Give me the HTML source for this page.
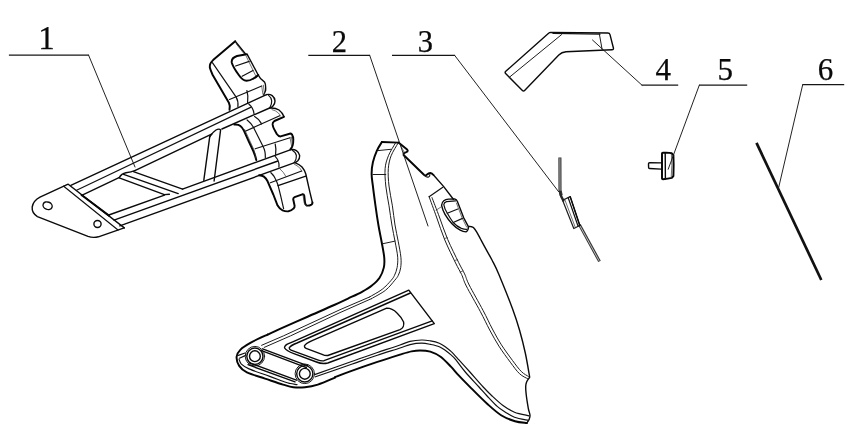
<!DOCTYPE html>
<html>
<head>
<meta charset="utf-8">
<title>Parts diagram</title>
<style>
html,body{margin:0;padding:0;background:#fff;}
body{width:853px;height:435px;overflow:hidden;}
svg{display:block;}
.lbl{font-family:"Liberation Serif",serif;fill:#0a0a0a;stroke:#0a0a0a;stroke-width:0.25;text-anchor:middle;}
.ld{stroke:#101010;stroke-width:1.1;fill:none;stroke-linejoin:miter;}
.k{stroke:#050505;stroke-width:1.95;fill:none;stroke-linejoin:round;stroke-linecap:round;}
.o{stroke:#0a0a0a;stroke-width:1.4;fill:none;stroke-linejoin:round;stroke-linecap:round;}
.m{stroke:#111;stroke-width:1.2;fill:none;stroke-linejoin:round;stroke-linecap:round;}
.n{stroke:#1c1c1c;stroke-width:1.0;fill:none;stroke-linejoin:round;stroke-linecap:round;}
.t{stroke:#333;stroke-width:0.7;fill:none;stroke-linejoin:round;stroke-linecap:round;}
</style>
</head>
<body>
<svg width="853" height="435" viewBox="0 0 853 435">
<defs><filter id="noop" x="0" y="0" width="100%" height="100%" filterUnits="userSpaceOnUse" color-interpolation-filters="sRGB"><feOffset dx="0" dy="0"/></filter><filter id="soft" x="0" y="0" width="853" height="435" filterUnits="userSpaceOnUse" color-interpolation-filters="sRGB"><feGaussianBlur stdDeviation="0.35"/></filter></defs>
<rect width="853" height="435" fill="#fff"/>
<g id="art" filter="url(#soft)">
<g id="p1">
<!-- base plate -->
<path class="o" d="M67.6,184.4 L40,197.2 Q33.4,200.6 32.2,207 Q31.6,212.8 37.4,216.6 L88,236.4 Q93,238.2 98.4,236.8 L124.2,227.9"/>
<path class="m" d="M63.7,186.2 L118,230"/>
<path class="o" d="M68.2,184.3 L124.3,227.9"/>
<path class="k" d="M81.5,195 L109,215.6"/>
<ellipse class="o" cx="47.6" cy="205.7" rx="4.7" ry="3.7" transform="rotate(22 47.6 205.7)"/>
<ellipse class="o" cx="97.5" cy="224" rx="3.6" ry="3.5"/>
<!-- upper tube -->
<path class="o" d="M70.8,185.3 L266.5,94.6"/>
<path class="m" d="M76.6,190.2 L250.6,107.4"/>
<path class="o" d="M81.7,195.4 L119,177.6 M135.4,170.4 L211.6,134.2 M221.9,129 L269.6,108"/>
<path class="o" d="M266.5,94.6 Q269.6,93.8 272.2,95.6 Q274.8,97.6 275,101 Q275,104 273,106 Q271.6,107.6 269.6,108"/>
<path class="m" d="M268.6,95.4 Q271.4,97.6 271.7,101 Q271.8,104.4 270,107.4"/>
<path class="m" d="M248.8,104 Q253.4,108 254,113.7"/>
<!-- lower tube -->
<path class="o" d="M108.8,215 L164.5,195.1 M182.5,189.1 L290.2,149.8"/>
<path class="o" d="M114,220.1 L277.9,161"/>
<path class="o" d="M119.8,225.9 L294,162.9"/>
<path class="o" d="M290.2,149.8 Q293.6,149 296.4,150.6 Q299.4,152.6 299.7,155.6 Q299.8,158.6 297.8,160.8 Q296.2,162.4 294,162.9"/>
<path class="m" d="M292.6,150.4 Q296,152.4 296.4,155.6 Q296.6,159 294.6,162"/>
<path class="m" d="M275.2,156.4 Q278.4,159.6 278.8,163 Q279.2,165 278.9,167"/>
<!-- diagonal brace -->
<path class="o" d="M133.4,171.6 L182.6,189.1"/>
<path class="o" d="M135.4,170.4 Q131,172.2 126,172.7 Q121.4,173.6 119.2,177.7"/>
<path class="o" d="M123.6,174.3 L178.2,193.6"/>
<path class="o" d="M119.2,177.8 L164.4,194.6 L169.4,194.2"/>
<!-- vertical brace -->
<path class="o" d="M203.8,180.4 L209.6,137.6 Q210,135 211.6,134.2"/>
<path class="o" d="M214.1,181 L220.6,129.8 Q219,128.4 216,130 Q212.4,132.4 209.8,136.6"/>
<!-- top piece -->
<path class="k" d="M235.2,41.2 L213.1,60.1 Q209.4,63.5 209.8,67.2 Q210,69 212.7,75 L228.9,102.7 Q230.5,106 229.5,109.8"/>
<path class="m" d="M212.4,62.7 L236,96.9 Q238.5,101 237.9,106.6"/>
<path class="o" d="M235.2,41.2 L245.3,53.7"/>
<path class="t" d="M236.3,44 L244.6,54.4"/>
<path class="k" d="M246.6,54.3 L237,56 Q231,58 231.8,62.7 Q233,67 238.8,75 Q242.5,80.5 246.6,80.8 Q250,80.8 253,78.8 Q256.5,77 258.2,75"/>
<path class="o" d="M247.2,54.3 L258.2,75 Q260,79 264.6,82.1 Q266,84 265.6,90.5 L263.7,95"/>
<path class="t" d="M245.9,55.6 L255.6,75.6"/>
<path class="m" d="M235.6,66 L249.2,61.4 M242.1,76.3 L253,70.5"/>
<path class="m" d="M229.5,99.5 L261.7,86"/>
<path class="m" d="M246.9,90.5 Q248.5,96 247.6,102.7"/>
<path class="t" d="M261.7,86 L262.9,94.3 M263.4,85.2 L264.4,93.6"/>
<!-- middle piece -->
<path class="o" d="M270.4,108 Q275.6,107.8 279,110 Q282.4,112.6 283.9,116.6"/>
<path class="t" d="M272,109.6 Q276,110.6 278.4,113 Q279.8,114.4 280.4,116"/>
<path class="k" d="M283.9,116.8 L274.4,121 Q272.4,122.4 272.6,124.4 Q273,127 274,128.9 L276.8,134 Q278.4,136.4 280.6,136.4 L290.5,133.5 Q291.6,133.6 292,134.6 Q293.4,137 293.3,139.6 Q293.3,143 292.6,145.4 Q292,147.4 290.6,149"/>
<path class="k" d="M234.4,124.6 Q238.6,124.4 240.4,126 Q242.4,127.6 243.9,130.7 L248.6,141.1 L253.3,151 Q255.6,156.4 256.3,160.1"/>
<path class="m" d="M247.1,119.9 Q250.6,122.6 253.3,127 L262.7,145.8 Q264.4,149 264.9,151.6 Q265.4,154 265.3,157.6"/>
<path class="m" d="M254.6,116.6 Q258.6,119 260.8,122.6 L261.4,124"/>
<path class="m" d="M245.3,131.2 L279.7,115.8 M255.2,148.8 L290,137.8"/>
<path class="m" d="M275.2,144 Q276.4,149 275.6,154.4"/>
<path class="t" d="M290,137.6 L291.6,146 M291.4,137 L292.4,144"/>
<path class="t" d="M244.6,129.4 L253.6,149 Q255.6,154 255.8,158.4"/>
<!-- bottom piece -->
<path class="k" d="M259.1,175.2 Q262.4,175.6 263.9,176.6 Q266,178.2 267.6,181.3 L273.3,194.5 L277.6,205.6 Q279.6,209 282.6,210.4 Q285.4,211.6 288.4,211.3 Q291.6,210.6 293.4,208.7 Q294.8,207.4 294.6,205.8 L293.2,199.2 Q293.2,197.8 294.6,197.2 L302.3,194.3 Q303.8,194 304.2,195.4 L305.1,203 Q305.4,205 306.8,205.6 Q309.4,205.8 311.4,204.6 Q312.6,203.8 312.5,202.5"/>
<path class="o" d="M295.4,162.8 Q299.6,164.4 302,167 Q304.6,170 305.8,174 L310,192.6 L312.4,202.5"/>
<path class="t" d="M294.4,164.2 Q298.4,166 300.2,168.6 Q301.4,170.2 301.8,171.4"/>
<path class="t" d="M280.2,169.2 Q283.6,172 285.8,176.2 M270.6,172.4 Q272.4,173.8 273.4,176"/>
<path class="m" d="M270.9,172.8 Q273.6,175 275.2,178.5 Q277,182 278,185.1 L280.8,196.4 L283.6,208.6"/>
<path class="m" d="M270.4,182.7 L301.6,171"/>
<path class="o" d="M278,185.6 L305.8,176.1"/>
<path class="t" d="M303,195 L304.2,203 Q304.8,205.4 306.6,205.9"/>
</g>
<g id="p2">
<path class="k" d="M381.9,142.0 C381.0,143.5 378.3,147.4 376.8,150.8 C375.3,154.2 373.8,158.4 372.9,162.2 C372.0,166.0 371.6,169.8 371.6,173.8 C371.6,177.8 372.2,180.7 372.9,186.0 C373.5,191.3 374.6,199.3 375.5,205.8 C376.4,212.3 377.4,219.0 378.4,225.0 C379.4,231.0 380.6,236.4 381.6,241.8 C382.6,247.2 383.8,252.9 384.2,257.2 C384.6,261.5 384.6,264.2 383.8,267.6 C383.0,271.0 381.6,274.7 379.6,277.7 C377.6,280.7 374.8,283.1 371.9,285.5 C369.0,287.9 366.0,289.6 362.0,291.8 C358.0,294.0 352.6,296.4 348.0,298.6 C343.4,300.8 341.0,301.9 334.2,305.0 C327.4,308.1 316.0,313.0 307.0,317.0 C298.0,321.0 286.6,326.0 280.0,328.9 C273.4,331.8 269.7,333.7 267.6,334.6"/>
<path class="k" d="M267.6,334.6 C264.8,335.9 255.3,340.1 250.8,342.6 C246.3,345.1 242.9,347.2 240.5,349.6 C238.1,352.0 236.8,354.2 236.6,356.9 C236.4,359.6 237.5,363.3 239.2,365.9 C240.9,368.5 242.6,370.3 246.9,372.4 C251.2,374.5 259.0,376.6 265.0,378.6 C271.0,380.6 278.3,383.2 283.0,384.6 C287.7,386.0 289.6,386.8 293.3,387.2 C297.0,387.6 300.9,387.6 305.0,387.2 C309.1,386.8 312.8,386.2 317.8,384.6 C322.8,383.0 332.1,378.8 335.0,377.6"/>
<path class="k" d="M335.0,377.2 C337.8,376.1 344.5,373.4 351.6,370.9 C358.7,368.3 369.3,364.6 377.4,361.9 C385.5,359.2 394.3,356.4 400.0,354.6 C405.7,352.9 408.2,352.1 411.5,351.4 C414.8,350.7 416.9,350.4 420.0,350.4 C423.1,350.4 426.9,350.6 430.3,351.6 C433.7,352.7 437.2,354.2 440.6,356.7 C444.0,359.2 447.9,363.5 450.9,366.6 C453.9,369.7 455.2,371.7 458.7,375.4 C462.1,379.1 466.8,383.8 471.6,388.6 C476.4,393.4 482.5,399.6 487.4,404.0 C492.3,408.4 496.5,412.3 501.1,415.2 C505.7,418.1 510.7,419.9 515.0,421.2 C519.3,422.5 524.8,422.7 526.8,423.0"/>
<path class="k" d="M381.9,142.0 L398.5,142.6"/>
<path class="n" d="M395.5,143.0 C394.3,145.1 390.1,151.5 388.4,155.8 C386.7,160.1 385.5,163.7 385.1,168.7 C384.7,173.7 385.2,179.8 385.8,186.0 C386.4,192.2 388.0,199.3 389.0,205.8 C390.0,212.3 390.9,219.0 391.9,225.0 C392.9,231.0 394.1,236.4 395.1,241.8 C396.1,247.2 397.4,252.9 397.7,257.2 C398.0,261.5 397.6,264.6 397.1,267.6 C396.6,270.6 395.5,273.2 394.5,275.3 C393.5,277.4 393.2,278.0 391.2,280.3 C389.1,282.6 385.8,286.5 382.2,289.3 C378.6,292.1 371.4,295.8 369.3,297.1"/>
<path class="n" d="M369.3,297.1 L340.0,309.7 L283.6,335.8 L261.6,345.3"/>
<path class="n" d="M398.0,143.2 C396.9,145.3 392.7,151.6 391.1,155.8 C389.5,160.1 388.7,163.7 388.3,168.7 C387.9,173.7 388.3,179.8 389.0,186.0 C389.7,192.2 391.4,199.3 392.4,205.8 C393.4,212.3 394.0,219.0 395.0,225.0 C396.0,231.0 397.3,236.4 398.3,241.8 C399.3,247.2 400.5,252.9 400.9,257.2 C401.3,261.5 401.1,264.6 400.7,267.6 C400.3,270.6 399.3,273.2 398.3,275.3 C397.3,277.4 396.9,277.7 394.8,280.2 C392.7,282.7 389.5,287.1 385.6,290.2 C381.7,293.3 373.9,297.2 371.6,298.6"/>
<path class="n" d="M371.6,298.6 L340.0,312.6 L290.7,335.8 L264.2,347.4"/>
<path class="n" d="M378.1,150.6 L390.9,149.3"/>
<path class="n" d="M372.9,174.5 L385.8,174.5"/>
<path class="n" d="M382.9,243.7 L395.1,241.1"/>
<path class="k" d="M398.5,142.6 L407.1,149.5 Q408.2,150.6 407.4,151.6 Q406.4,152.4 404.2,153 Q403.4,153.8 403.6,155 L424.2,175 Q425.6,176 427,174.6 Q428.6,173.2 430.4,173 Q432,173.2 433.5,175"/>
<path class="o" d="M433.5,175 L443.5,186.4 L453.4,199.2"/>
<path class="m" d="M424.8,175.6 Q426.6,177.6 428.6,177 Q430,176.2 429.8,174.8"/>
<path class="t" d="M400.6,145.4 L404.4,152.6"/>
<path class="o" d="M468.4,226.6 C468.8,226.6 470.2,226.4 471.0,226.6 C471.8,226.8 472.5,226.7 473.4,227.6 C474.3,228.5 475.4,230.0 476.6,231.9 C477.8,233.8 479.1,236.4 480.5,239.0 C481.9,241.6 483.1,243.9 485.0,247.4 C486.9,250.9 489.7,255.5 492.0,260.0 C494.3,264.5 495.5,266.3 498.9,274.5 C502.3,282.7 509.2,299.8 512.6,309.0 C516.0,318.2 517.4,322.7 519.5,330.0 C521.6,337.3 523.6,345.2 525.3,353.0 C527.0,360.8 528.9,372.7 529.6,376.6"/>
<path class="o" d="M529.6,377.4 C529.1,378.2 527.2,380.5 526.6,382.0 C526.0,383.5 525.8,384.4 525.7,386.5 C525.6,388.6 525.8,390.9 526.2,394.5 C526.6,398.1 527.7,404.9 528.3,408.3 C528.9,411.8 529.9,413.3 530.0,415.2 C530.1,417.1 529.6,418.2 529.1,419.5 C528.6,420.8 527.2,422.4 526.8,423.0"/>
<path class="n" d="M429.1,196.7 C430.3,200.1 433.9,209.8 436.5,217.0 C439.1,224.2 441.6,232.3 444.8,240.0 C448.0,247.7 452.8,257.2 455.6,263.0 C458.4,268.8 459.8,270.7 461.6,274.5 C463.4,278.3 463.2,279.9 466.3,286.0 C469.4,292.1 476.3,304.0 480.2,311.3 C484.1,318.6 486.6,324.2 489.7,330.0 C492.8,335.8 495.5,340.7 498.9,346.1 C502.3,351.5 506.9,357.6 510.3,362.2 C513.7,366.8 516.6,370.9 519.5,373.7 C522.4,376.4 526.2,377.9 527.6,378.7"/>
<path class="n" d="M432.0,197.6 C433.2,200.8 436.8,210.0 439.4,217.0 C442.0,224.0 444.5,231.8 447.7,239.4 C450.9,247.0 455.8,256.6 458.6,262.4 C461.4,268.1 462.8,270.1 464.6,273.9 C466.4,277.7 466.1,278.9 469.2,285.0 C472.3,291.1 479.1,303.0 483.0,310.3 C486.9,317.6 489.3,323.2 492.4,329.0 C495.5,334.8 498.0,339.5 501.4,344.8 C504.8,350.1 509.3,356.1 512.6,360.6 C515.9,365.1 518.8,369.0 521.4,371.6 C524.0,374.2 527.2,375.6 528.4,376.4"/>
<path class="t" d="M454.6,260.6 L457.6,259.6"/>
<path class="t" d="M460.0,272.0 L463.0,271.0"/>
<path class="t" d="M444.4,238.6 L447.4,237.6"/>
<path class="m" d="M442.8,187.3 L429.1,196.7"/>
<path class="o" d="M441.6,205.4 Q441.8,202.4 443.8,200.8 Q445.6,199.4 448.5,199.1 L454.6,198.9 Q456.6,199.4 457.4,201.4 L463.7,217.8 L468.4,226.6 Q468.6,230.4 466,231.9 Q463,231.8 460.2,230.2 Q455.6,227.6 452,223.7 Q448,219.4 445,214.3 Q442.6,210.4 441.6,205.4 Z"/>
<path class="m" d="M455.6,200.9 L446.6,201.6 Q444,202.4 443.8,204.6 Q444.4,208.6 447.3,213.2 Q450,218 453.2,222.5 Q457,226.6 461.4,228.4 Q464.6,229.6 466.8,229.4"/>
<path class="m" d="M447.3,213.2 L457.8,209 M453.2,222.5 L462.5,218.4"/>
<path class="t" d="M436.1,210.2 L441.4,206.7"/>
<path class="t" d="M456.4,203 L462.4,218.6 L466.6,227"/>
<path class="m" d="M314.6,374.6 C320.8,372.4 341.1,365.2 351.6,361.5 C362.1,357.8 369.3,355.2 377.4,352.5 C385.5,349.8 394.6,346.9 400.0,345.0 C405.4,343.1 406.4,342.2 410.0,341.4 C413.6,340.6 418.3,340.1 421.7,340.0 C425.1,339.9 427.6,340.4 430.5,340.9 C433.4,341.4 436.9,342.2 439.3,343.2 C441.8,344.2 443.2,345.3 445.2,346.7 C447.1,348.1 448.8,349.2 451.0,351.4 C453.2,353.5 455.6,356.2 458.7,359.6 C461.8,363.0 465.8,367.4 469.9,372.0 C474.0,376.6 479.5,383.0 483.2,387.0 C486.9,391.0 488.8,392.9 492.1,396.0 C495.4,399.1 499.3,402.8 503.0,405.5 C506.7,408.2 510.2,410.5 514.5,412.2 C518.8,413.9 526.6,415.2 529.0,415.8"/>
<path class="m" d="M315.5,376.8 C321.5,374.7 341.3,367.9 351.6,364.3 C361.9,360.7 369.3,358.0 377.4,355.3 C385.5,352.6 394.6,349.8 400.0,348.0 C405.4,346.2 406.4,345.4 410.0,344.6 C413.6,343.8 418.3,343.2 421.7,343.2 C425.1,343.2 427.6,343.8 430.5,344.4 C433.4,345.0 436.9,345.7 439.3,346.7 C441.8,347.7 443.2,348.8 445.2,350.2 C447.1,351.6 449.2,353.3 451.0,354.9 C452.8,356.5 453.3,356.8 455.7,359.6 C458.1,362.5 461.4,367.4 465.3,372.0 C469.2,376.6 475.4,383.0 479.0,387.0 C482.6,391.0 484.1,392.8 487.1,396.0 C490.1,399.2 494.2,403.7 497.2,406.4 C500.2,409.1 502.1,410.2 505.0,412.0 C507.9,413.8 510.6,415.8 514.5,417.2 C518.4,418.6 526.0,419.8 528.3,420.3"/>
<ellipse class="n" cx="254.9" cy="356.2" rx="9.7" ry="9.8"/>
<ellipse class="o" cx="254.9" cy="356.2" rx="8.1" ry="8.2"/>
<ellipse class="o" cx="254.9" cy="356.2" rx="5.4" ry="5.4"/>
<ellipse class="n" cx="304.8" cy="373.8" rx="9.7" ry="9.8"/>
<ellipse class="o" cx="304.8" cy="373.8" rx="8.1" ry="8.2"/>
<ellipse class="o" cx="304.8" cy="373.8" rx="5.4" ry="5.4"/>
<path class="o" d="M262.6,348.8 L308.0,365.9"/>
<path class="o" d="M261.6,350.7 L306.4,367.6"/>
<path class="o" d="M249.4,362.8 L296.4,380.2"/>
<path class="o" d="M248.0,364.7 L295.0,381.9"/>
<path class="m" d="M239.1,359.4 C239.5,360.2 239.8,362.5 241.4,364.1 C243.1,365.7 244.3,366.8 249.0,368.9 C253.7,370.9 263.7,374.2 269.7,376.4 C275.7,378.6 281.4,380.8 284.8,382.0 C288.2,383.2 288.4,383.1 290.4,383.5 C292.4,383.9 295.9,384.4 297.0,384.6"/>
<path class="m" d="M238.4,355.4 L245.0,353.0"/>
<path class="m" d="M239.4,358.2 L245.2,355.6"/>
<path class="o" d="M293.9,341.3 L408.8,290.2 L434.3,323.6 L327.8,363 Q322.1,364.4 316.5,362 L293.9,353.6 Q286.3,350.7 284.6,348 Q284.2,346 287.3,344.1 Z"/>
<path class="o" d="M410.4,293 L297,343 Q290.4,345.6 289.2,347.8 Q289.2,349.4 291,350.1 L317.6,359.9 Q321,361.2 324,360.7 L432.2,320.9"/>
<path class="o" d="M386.7,308.1 L312.7,340.4 Q305.6,343.4 304.4,346 Q304.4,347.8 306.1,348.4 L322.1,354.3 Q325,355.8 327.8,355.5 L400,329.6 Q404.6,327.4 403.6,322 Q401,316.6 397,312.9 Q392,308 386.7,308.1 Z"/>
</g>
<g id="p3">
<path d="M559.9,157.4 L560,190 L561.2,195.4" stroke="#333" stroke-width="3.1" fill="none" stroke-linejoin="round"/>
<path d="M559.9,158.2 L560,190 L561,194.6" stroke="#aaa" stroke-width="1.0" fill="none" stroke-linejoin="round"/>
<path d="M560,191.6 L561.2,196.4 L563.4,200.6" stroke="#2a2a2a" stroke-width="2.4" fill="none" stroke-linejoin="round" stroke-linecap="round"/>
<path d="M579.4,224.6 L599.5,261.4" stroke="#333" stroke-width="2.9" fill="none" stroke-linejoin="round"/>
<path d="M580,226 L599.1,260.8" stroke="#ccc" stroke-width="0.9" fill="none" stroke-linejoin="round"/>
<path d="M562.6,200.2 L570.2,196.6 L579.8,225.5 L573.8,228.5 Z" stroke="#1c1c1c" stroke-width="1.2" fill="none" stroke-linejoin="round"/>
<path d="M564.7,199.3 L575.4,227.7" class="t"/>
<path d="M568.2,197.7 L578.1,226.3" class="m"/>
<path d="M570.2,196.6 L579.8,225.5" class="o"/>
</g>
<g id="p4">
<path class="o" d="M550.6,32.4 L607.8,33 Q609.6,33 610,34.6 L613.4,48 Q613.8,49.6 612,49.7 L566,51.8 Q561.6,52.2 558.8,55 L524.6,90.4 Q523.5,91.5 522.4,90.4 L505.6,73.6 Q504.6,72.4 505.8,71.3 L548.6,33.2 Q549.4,32.4 550.6,32.4 Z"/>
<path class="m" d="M553,33.4 L600,34.2"/>
<path class="n" d="M561.6,34.6 L509.2,77.4"/>
<path class="n" d="M599.3,33.6 L602.2,50"/>
</g>
<g id="p5">
<path class="o" d="M661.2,162.9 L649.6,162.7 Q648.5,162.7 648.5,163.7 L648.6,167.6 Q648.6,168.5 649.6,168.5 L661.2,169.1"/>
<path class="k" d="M662,153.6 Q662,152.8 663,152.7 L666,152.6 Q670,152.7 671.6,153.2 L673.4,155.2 Q673.9,165 673.4,176 L671.8,177.9 Q668,178.8 663,179.2 Q662,179.2 662,178.4 Z"/>
<path class="o" d="M665.2,152.8 L665.4,178.9"/>
<path class="t" d="M671.4,154 Q672.4,165 671.2,177.8"/>
</g>
<g id="p6">
<line x1="756.5" y1="142.9" x2="821.3" y2="280" stroke="#111" stroke-width="2.7" stroke-linecap="butt"/>
</g>
<g id="leaders">
<g stroke="#161616" stroke-width="1.25" fill="none">
<path d="M8.9,55.2 H88.9"/>
<path d="M308.3,55.3 H370"/>
<path d="M392,55.3 H455"/>
<path d="M641.6,85.2 H678.2"/>
<path d="M699,85.2 H747.2"/>
<path d="M802.4,84.7 H844.2"/>
</g>
<g stroke="#161616" stroke-width="0.95" fill="none" stroke-linecap="round">
<path d="M88.6,55.2 L135,167"/>
<path d="M369.7,55.3 L428,226"/>
<path d="M454.6,55.3 L558.6,191.7"/>
<path d="M592.5,40 L642,85.2"/>
<path d="M699.3,85.2 L668.2,169.2"/>
<path d="M802.7,84.7 L778.6,187.8"/>
</g>
</g>
</g>
<g id="labels" filter="url(#noop)">
<text class="lbl" x="46.5" y="49.3" font-size="33">1</text>
<text class="lbl" x="339.3" y="52.4" font-size="30.5">2</text>
<text class="lbl" x="425.3" y="52.4" font-size="30.5">3</text>
<text class="lbl" x="663.2" y="80" font-size="31">4</text>
<text class="lbl" x="725.3" y="79.7" font-size="31">5</text>
<text class="lbl" x="825.5" y="79.7" font-size="31">6</text>
</g>
</svg>
</body>
</html>
